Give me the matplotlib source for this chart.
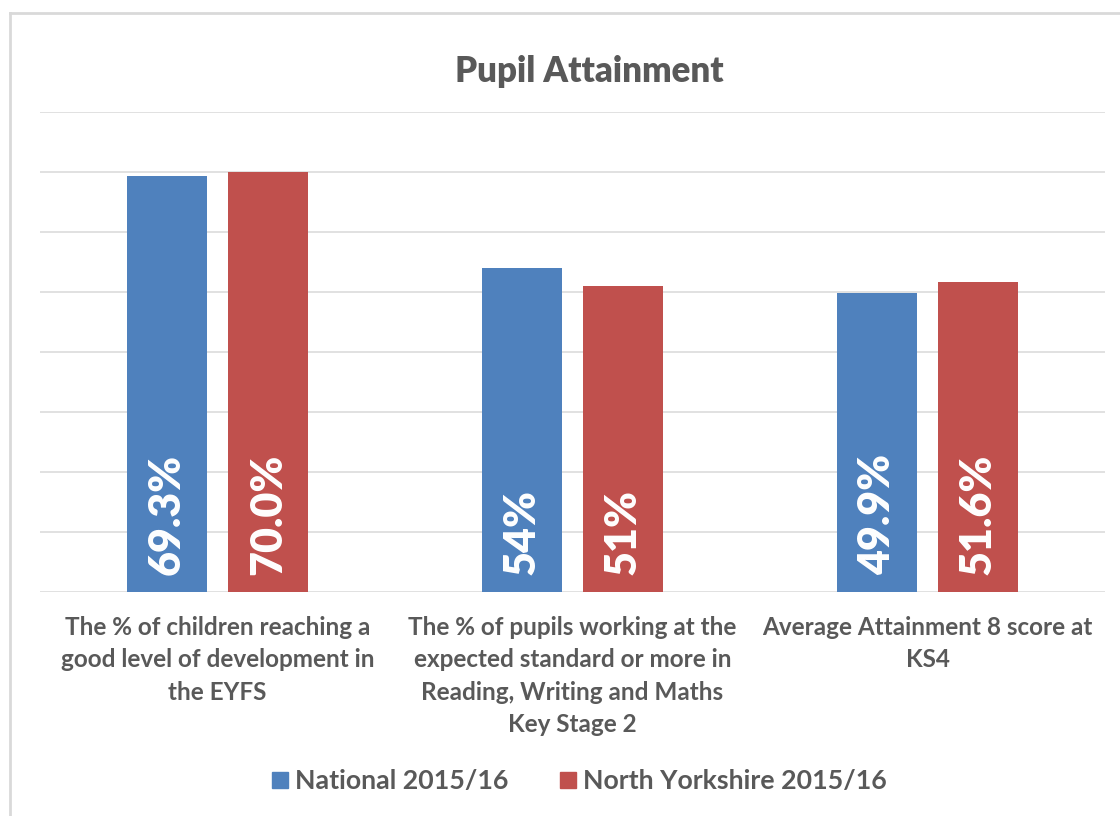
import matplotlib
matplotlib.use('Agg')
import matplotlib.pyplot as plt
from matplotlib.lines import Line2D
import numpy as np

# chart data
categories = [
    "The % of children reaching a\ngood level of development in\nthe EYFS",
    "The % of pupils working at the\nexpected standard or more in\nReading, Writing and Maths\nKey Stage 2",
    "Average Attainment 8 score at\nKS4",
]
series_names = ["National 2015/16", "North Yorkshire 2015/16"]
national = [69.3, 54, 49.9]
north_yorks = [70.0, 51, 51.6]
national_labels = ["69.3%", "54%", "49.9%"]
north_yorks_labels = ["70.0%", "51%", "51.6%"]

BLUE = '#4F81BD'
RED = '#C0504D'
GREY_TEXT = '#595959'
GRID = '#D9D9D9'

plt.rcParams['font.family'] = ['Lato', 'DejaVu Sans']

W, H = 1120, 816
fig = plt.figure(figsize=(W / 100, H / 100), dpi=100)
fig.patch.set_facecolor('white')

ax = fig.add_axes([40 / W, 1 - 592 / H, (1105 - 40) / W, (592 - 112) / H])

x = np.arange(len(categories))
width = 0.224
offset = 0.1425

bars1 = ax.bar(x - offset, national, width, color=BLUE, zorder=3)
bars2 = ax.bar(x + offset, north_yorks, width, color=RED, zorder=3)

# value labels at the base of each bar
for bars, labels in ((bars1, national_labels), (bars2, north_yorks_labels)):
    for b, lab in zip(bars, labels):
        ax.annotate(lab, (b.get_x() + b.get_width() / 2, 0),
                    xytext=(0, 12.5), textcoords='offset points',
                    rotation=90, ha='center', va='bottom',
                    color='white', fontsize=31, fontweight='heavy', zorder=4)

ax.set_xlim(-0.5, 2.5)
ax.set_ylim(0, 80)
ax.set_yticks(np.arange(0, 81, 10))
ax.yaxis.grid(True, color=GRID, linewidth=1.1, zorder=0)
ax.set_yticklabels([])
ax.tick_params(axis='both', length=0)
for s in ax.spines.values():
    s.set_visible(False)

ax.set_xticks(x)
ax.set_xticklabels(categories, fontsize=17.5, fontweight='bold', color=GREY_TEXT,
                   linespacing=1.5, va='top')
ax.tick_params(axis='x', pad=17)

fig.text(589 / W, 1 - 72 / H, "Pupil Attainment", ha='center', va='center',
         fontsize=25, fontweight='heavy', color=GREY_TEXT)

handles = [Line2D([], [], marker='s', linestyle='none', markersize=12,
                  markerfacecolor=c, markeredgecolor=c) for c in (BLUE, RED)]
fig.legend(handles, series_names, loc='center', ncol=2,
           bbox_to_anchor=(578 / W, 1 - 781 / H), frameon=False,
           prop={'size': 19.3, 'weight': 'bold'}, labelcolor=GREY_TEXT,
           handletextpad=0.15, columnspacing=1.85, handlelength=0.8)

# chart border (partly cut off at right and bottom)
fig.add_artist(Line2D([10 / W, 10 / W], [0, 1 - 13 / H], color=GRID, linewidth=2))
fig.add_artist(Line2D([10 / W, 1], [1 - 13 / H, 1 - 13 / H], color=GRID, linewidth=2))

fig.savefig('out.png', dpi=100, facecolor='white')
